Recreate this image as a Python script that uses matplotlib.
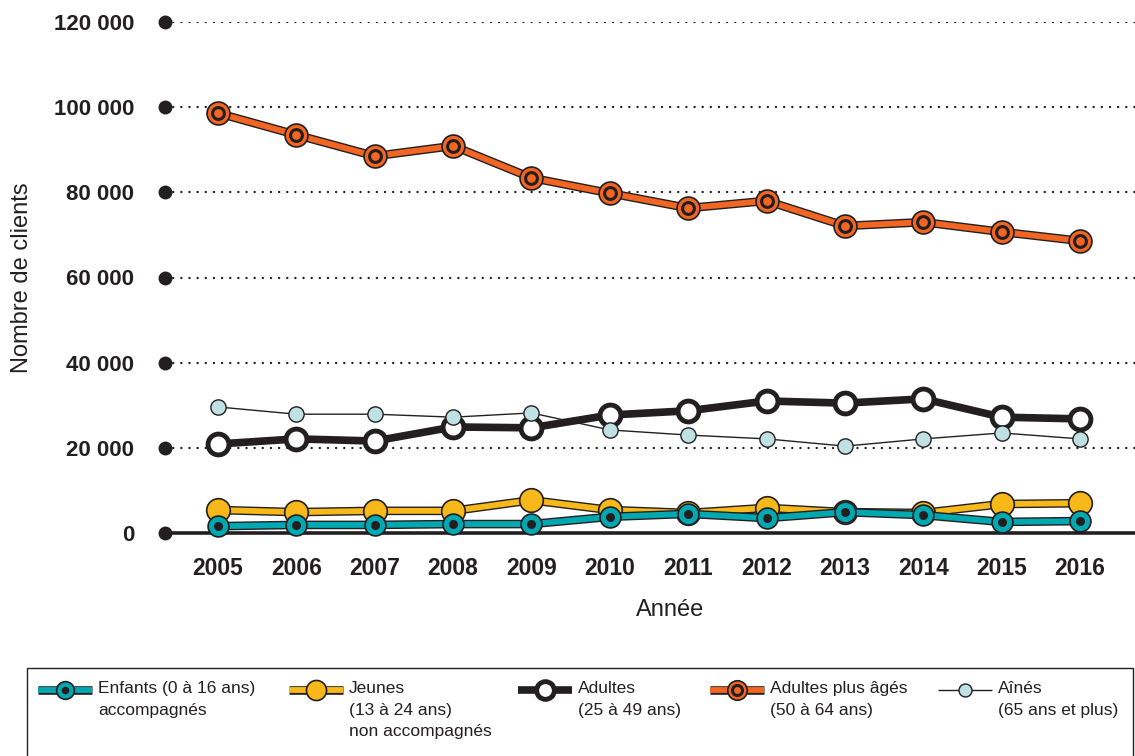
import matplotlib.pyplot as plt
import matplotlib.patheffects as pe
from matplotlib.patches import Rectangle
import matplotlib.transforms as mtransforms

plt.rcParams['font.family'] = ['Liberation Sans Narrow', 'Liberation Sans', 'DejaVu Sans']

# --- data ---
years = [2005, 2006, 2007, 2008, 2009, 2010, 2011, 2012, 2013, 2014, 2015, 2016]
enfants = [1600, 1900, 1900, 2100, 2100, 3800, 4500, 3500, 4900, 4200, 2600, 2800]
jeunes = [5400, 4900, 5200, 5200, 7700, 5400, 4700, 5900, 4900, 4700, 6800, 7000]
adultes = [20900, 22100, 21600, 24900, 24700, 27700, 28700, 31000, 30500, 31500, 27200, 26800]
adultes_ages = [98600, 93500, 88500, 90900, 83400, 79800, 76300, 78000, 72100, 73000, 70700, 68600]
aines = [29600, 27900, 27900, 27200, 28200, 24200, 23000, 22100, 20400, 22100, 23500, 22100]
y_ticks = [0, 20000, 40000, 60000, 80000, 100000, 120000]
y_tick_labels = ['0', '20 000', '40 000', '60 000', '80 000', '100 000', '120 000']

labels = ['Enfants (0 à 16 ans)\naccompagnés',
          'Jeunes\n(13 à 24 ans)\nnon accompagnés',
          'Adultes\n(25 à 49 ans)',
          'Adultes plus âgés\n(50 à 64 ans)',
          'Aînés\n(65 ans et plus)']

DARK = '#231f20'
TEAL = '#00a9b1'
YELLOW = '#f7b81a'
ORANGE = '#f26522'
LIGHTBLUE = '#bfe1e3'

styles = {
    'enfants': dict(color=TEAL, lw=4.2, outline=6.2, ms=15, mfc=TEAL, mec=DARK, mew=1.2,
                    inner=dict(ms=6.5, mfc=DARK, mec=DARK, mew=0)),
    'jeunes': dict(color=YELLOW, lw=4.2, outline=6.2, ms=17, mfc=YELLOW, mec=DARK, mew=1.2,
                   inner=None),
    'adultes': dict(color=DARK, lw=5.5, outline=None, ms=15, mfc='white', mec=DARK, mew=3.5,
                    inner=None),
    'ages': dict(color=ORANGE, lw=4.2, outline=6.2, ms=16.5, mfc=ORANGE, mec=DARK, mew=1.2,
                 inner=dict(ms=8.5, mfc=ORANGE, mec=DARK, mew=2.2)),
    'aines': dict(color=DARK, lw=1.0, outline=None, ms=11, mfc=LIGHTBLUE, mec=DARK, mew=1.0,
                  inner=None),
}


def draw_line(ax, x, y, st, z):
    line, = ax.plot(x, y, color=st['color'], lw=st['lw'], zorder=z,
                    solid_capstyle='butt', clip_on=False)
    if st['outline']:
        line.set_path_effects([pe.Stroke(linewidth=st['outline'], foreground=DARK), pe.Normal()])


def draw_markers(ax, x, y, st, z, scale=1.0):
    ax.plot(x, y, 'o', ms=st['ms'] * scale, mfc=st['mfc'], mec=st['mec'], mew=st['mew'],
            zorder=z, clip_on=False)
    if st['inner']:
        inn = st['inner']
        ax.plot(x, y, 'o', ms=inn['ms'] * scale, mfc=inn['mfc'], mec=inn['mec'], mew=inn['mew'],
                zorder=z + 0.1, clip_on=False)


fig = plt.figure(figsize=(11.35, 7.56), dpi=100)
ax = fig.add_axes([165 / 1135, 1 - 533 / 756, 1 - 165 / 1135, (533 - 22) / 756])

ax.set_xlim(2004.324, 2016.70)
ax.set_ylim(0, 120000)

# dotted grid and solid baseline
for yt in y_ticks[1:]:
    ax.axhline(yt, color=DARK, lw=1.7, linestyle=(0, (0.05, 3.4)), dash_capstyle='round', zorder=1)
ax.plot([2004.38, 2016.70], [0, 0], color=DARK, lw=2.6, zorder=2, clip_on=False)

# tick dots on the left
trans = mtransforms.blended_transform_factory(ax.transAxes, ax.transData)
ax.plot([0] * len(y_ticks), y_ticks, 'o', ms=9, color=DARK, transform=trans, clip_on=False, zorder=3)

# series
draw_line(ax, years, aines, styles['aines'], 4)
draw_line(ax, years, adultes, styles['adultes'], 5)
draw_markers(ax, years, adultes, styles['adultes'], 6)
draw_markers(ax, years, aines, styles['aines'], 7)
draw_line(ax, years, adultes_ages, styles['ages'], 5)
draw_markers(ax, years, adultes_ages, styles['ages'], 6)
draw_line(ax, years, jeunes, styles['jeunes'], 8)
draw_markers(ax, years, jeunes, styles['jeunes'], 9)
draw_line(ax, years, enfants, styles['enfants'], 10)
draw_markers(ax, years, enfants, styles['enfants'], 11)

for s in ax.spines.values():
    s.set_visible(False)
ax.set_yticks(y_ticks)
ax.set_yticklabels(y_tick_labels, fontsize=16, fontweight='bold', color=DARK)
ax.set_xticks(years)
ax.set_xticklabels([str(y) for y in years], fontsize=16.5, fontweight='bold', color=DARK)
ax.tick_params(axis='y', length=0, pad=22)
ax.tick_params(axis='x', length=0, pad=17)
ax.set_ylabel('Nombre de clients', fontsize=17, color=DARK)
ax.set_xlabel('Année', fontsize=17, color=DARK)
ax.yaxis.set_label_coords(-132 / 970, 0.5)
ax.xaxis.set_label_coords((670 - 165) / 970, -66 / 511)

# legend box drawn by hand
fig.patches.append(Rectangle((27 / 1135, -0.01), (1133 - 27) / 1135, (756 - 668) / 756 + 0.01,
                             transform=fig.transFigure, fill=False, edgecolor=DARK, lw=1.0))
lax = fig.add_axes([0, 0, 1, 1], facecolor='none')
lax.set_xlim(0, 1135)
lax.set_ylim(756, 0)
lax.axis('off')
handle_x = [38, 289, 518, 710, 938]
keys = ['enfants', 'jeunes', 'adultes', 'ages', 'aines']
ly = 690
for hx, key, lab in zip(handle_x, keys, labels):
    st = styles[key]
    draw_line(lax, [hx, hx + 54], [ly, ly], st, 5)
    draw_markers(lax, [hx + 27], [ly], st, 6, scale=0.85)
    lax.text(hx + 60, ly - 9, lab, fontsize=12.5, color=DARK, va='top', ha='left', linespacing=1.55)

fig.savefig('out.png', dpi=100)
